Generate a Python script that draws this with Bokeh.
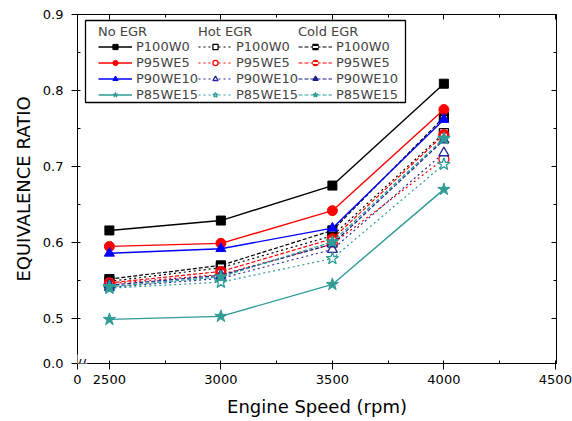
from bokeh.plotting import figure
from bokeh.models import (FixedTicker, LinearAxis, Legend, LegendItem, BoxAnnotation,
                          Label, Range1d, PrintfTickFormatter)
from bokeh.embed import file_html
from bokeh.resources import INLINE

FONT = "DejaVu Sans"

# ---- data -------------------------------------------------------------
speeds = [2500, 3000, 3500, 4000]
fuel_labels = ["P100W0", "P95WE5", "P90WE10", "P85WE15"]
group_titles = ["No EGR", "Hot EGR", "Cold EGR"]

no_egr_p100w0 = [0.616, 0.629, 0.675, 0.809]
no_egr_p95we5 = [0.595, 0.599, 0.642, 0.775]
no_egr_p90we10 = [0.586, 0.592, 0.619, 0.762]
no_egr_p85we15 = [0.499, 0.503, 0.545, 0.670]

hot_egr_p100w0 = [0.549, 0.567, 0.609, 0.744]
hot_egr_p95we5 = [0.546, 0.558, 0.598, 0.710]
hot_egr_p90we10 = [0.541, 0.553, 0.591, 0.718]
hot_egr_p85we15 = [0.540, 0.548, 0.579, 0.703]

cold_egr_p100w0 = [0.552, 0.570, 0.616, 0.765]
cold_egr_p95we5 = [0.547, 0.562, 0.605, 0.742]
cold_egr_p90we10 = [0.544, 0.557, 0.598, 0.735]
cold_egr_p85we15 = [0.542, 0.555, 0.601, 0.737]

x_ticks = [2500, 3000, 3500, 4000, 4500]
x_minor = [2750, 3250, 3750, 4250]
y_ticks = [0.5, 0.6, 0.7, 0.8, 0.9]
y_minor = [0.55, 0.65, 0.75, 0.85]
x_axis_start = 2357   # broken axis: labelled "0"
y_axis_start = 0.441  # broken axis: labelled "0.0"

colors = ["#000000", "#ff0000", "#0000ff", "#2f9c96"]
hot_colors = ["#000000", "#ff0000", "#23239c", "#2f9c96"]
cold_colors = ["#000000", "#ff0000", "#1c1c8c", "#2f9c96"]
markers = ["square", "circle", "triangle", "star"]
marker_sizes = [9, 10, 10, 13]

# ---- figure -----------------------------------------------------------
p = figure(width=572, height=421, output_backend="svg", toolbar_location=None,
           x_range=Range1d(x_axis_start, 4505), y_range=Range1d(y_axis_start, 0.9),
           min_border_left=77, min_border_right=16, min_border_top=14, min_border_bottom=58)
p.xgrid.visible = False
p.ygrid.visible = False
p.outline_line_color = "black"
p.outline_line_width = 1
p.background_fill_color = "white"
p.border_fill_color = "white"

xt = FixedTicker(ticks=[x_axis_start] + x_ticks, minor_ticks=x_minor)
yt = FixedTicker(ticks=[y_axis_start] + y_ticks, minor_ticks=y_minor)

xa = p.xaxis[0]
xa.ticker = xt
xa.formatter = PrintfTickFormatter(format="%d")
xa.major_label_overrides = {x_axis_start: "0"}
ya = p.yaxis[0]
ya.ticker = yt
ya.formatter = PrintfTickFormatter(format="%.1f")
ya.major_label_overrides = {y_axis_start: "0.0"}

for ax in (xa, ya):
    ax.axis_line_color = "black"
    ax.major_tick_line_color = "black"
    ax.minor_tick_line_color = "black"
    ax.major_label_text_font = FONT
    ax.major_label_text_font_size = "13px"
    ax.major_label_text_color = "black"
    ax.axis_label_text_font = FONT
    ax.axis_label_text_font_size = "18px"
    ax.axis_label_text_font_style = "normal"
    ax.axis_label_text_color = "black"
    ax.major_tick_out = 6
    ax.major_tick_in = 3
    ax.minor_tick_out = 0
    ax.minor_tick_in = 3

xa.axis_label = "Engine Speed (rpm)"
xa.major_label_standoff = 5
xa.axis_label_standoff = 9
ya.axis_label = "EQUIVALENCE RATIO"
ya.major_label_standoff = 8
ya.axis_label_standoff = 6

for loc, tk in (("above", xt), ("right", yt)):
    ax = LinearAxis(ticker=tk, major_label_text_font_size="0px", major_label_standoff=0,
                    major_tick_out=0, major_tick_in=5, minor_tick_out=0, minor_tick_in=3,
                    axis_line_color="black")
    ax.major_label_overrides = {t: "" for t in tk.ticks}
    p.add_layout(ax, loc)

# ---- series -------------------------------------------------------------
no_egr = [no_egr_p100w0, no_egr_p95we5, no_egr_p90we10, no_egr_p85we15]
hot_egr = [hot_egr_p100w0, hot_egr_p95we5, hot_egr_p90we10, hot_egr_p85we15]
cold_egr = [cold_egr_p100w0, cold_egr_p95we5, cold_egr_p90we10, cold_egr_p85we15]

hot_items, cold_items, no_items = [], [], []

for i in range(4):
    c = hot_colors[i]
    l = p.line(speeds, hot_egr[i], line_color=c, line_width=1.2, line_dash="2 3")
    s = p.scatter(speeds, hot_egr[i], marker=markers[i], size=marker_sizes[i],
                  line_color=c, fill_color="white", line_width=1.3)
    hot_items.append(LegendItem(label=fuel_labels[i], renderers=[l, s]))

for i in range(4):
    c = cold_colors[i]
    l = p.line(speeds, cold_egr[i], line_color=c, line_width=1.2, line_dash="4 2")
    s = p.scatter(speeds, cold_egr[i], marker=markers[i], size=marker_sizes[i],
                  line_color=c, fill_color=c, line_width=1.2)
    rs = [l, s]
    if i < 2:
        d = p.scatter(speeds, cold_egr[i], marker="dash", size=6, line_color="white",
                      line_width=2)
        rs.append(d)
    cold_items.append(LegendItem(label=fuel_labels[i], renderers=rs))

for i in range(4):
    c = colors[i]
    l = p.line(speeds, no_egr[i], line_color=c, line_width=1.4)
    s = p.scatter(speeds, no_egr[i], marker=markers[i], size=marker_sizes[i],
                  line_color=c, fill_color=c)
    no_items.append(LegendItem(label=fuel_labels[i], renderers=[l, s]))

# ---- legend -------------------------------------------------------------
p.add_layout(BoxAnnotation(left=8, right=328, top=343, bottom=261,
                           left_units="screen", right_units="screen",
                           top_units="screen", bottom_units="screen",
                           fill_alpha=0, line_color="black", line_width=1.3,
                           line_alpha=1))

for k, items in enumerate([no_items, hot_items, cold_items]):
    lg = Legend(items=items, title=group_titles[k], location=(16 + 100 * k, 256),
                orientation="vertical",
                label_text_font=FONT, label_text_font_size="13px",
                title_text_font=FONT, title_text_font_size="13px",
                title_text_font_style="normal", title_standoff=0,
                glyph_width=34, glyph_height=13, label_height=13, label_standoff=4,
                spacing=1, padding=5, margin=0,
                border_line_alpha=0, background_fill_alpha=0)
    p.add_layout(lg, "center")

# axis-break mark at the origin corner
p.add_layout(Label(x=4, y=0, x_units="screen", y_units="screen", text="//",
                   text_font=FONT, text_font_size="14px", text_align="center",
                   text_baseline="middle", text_color="black",
                   background_fill_color="white", padding=1))

open("out.html", "w").write(file_html(p, INLINE))
